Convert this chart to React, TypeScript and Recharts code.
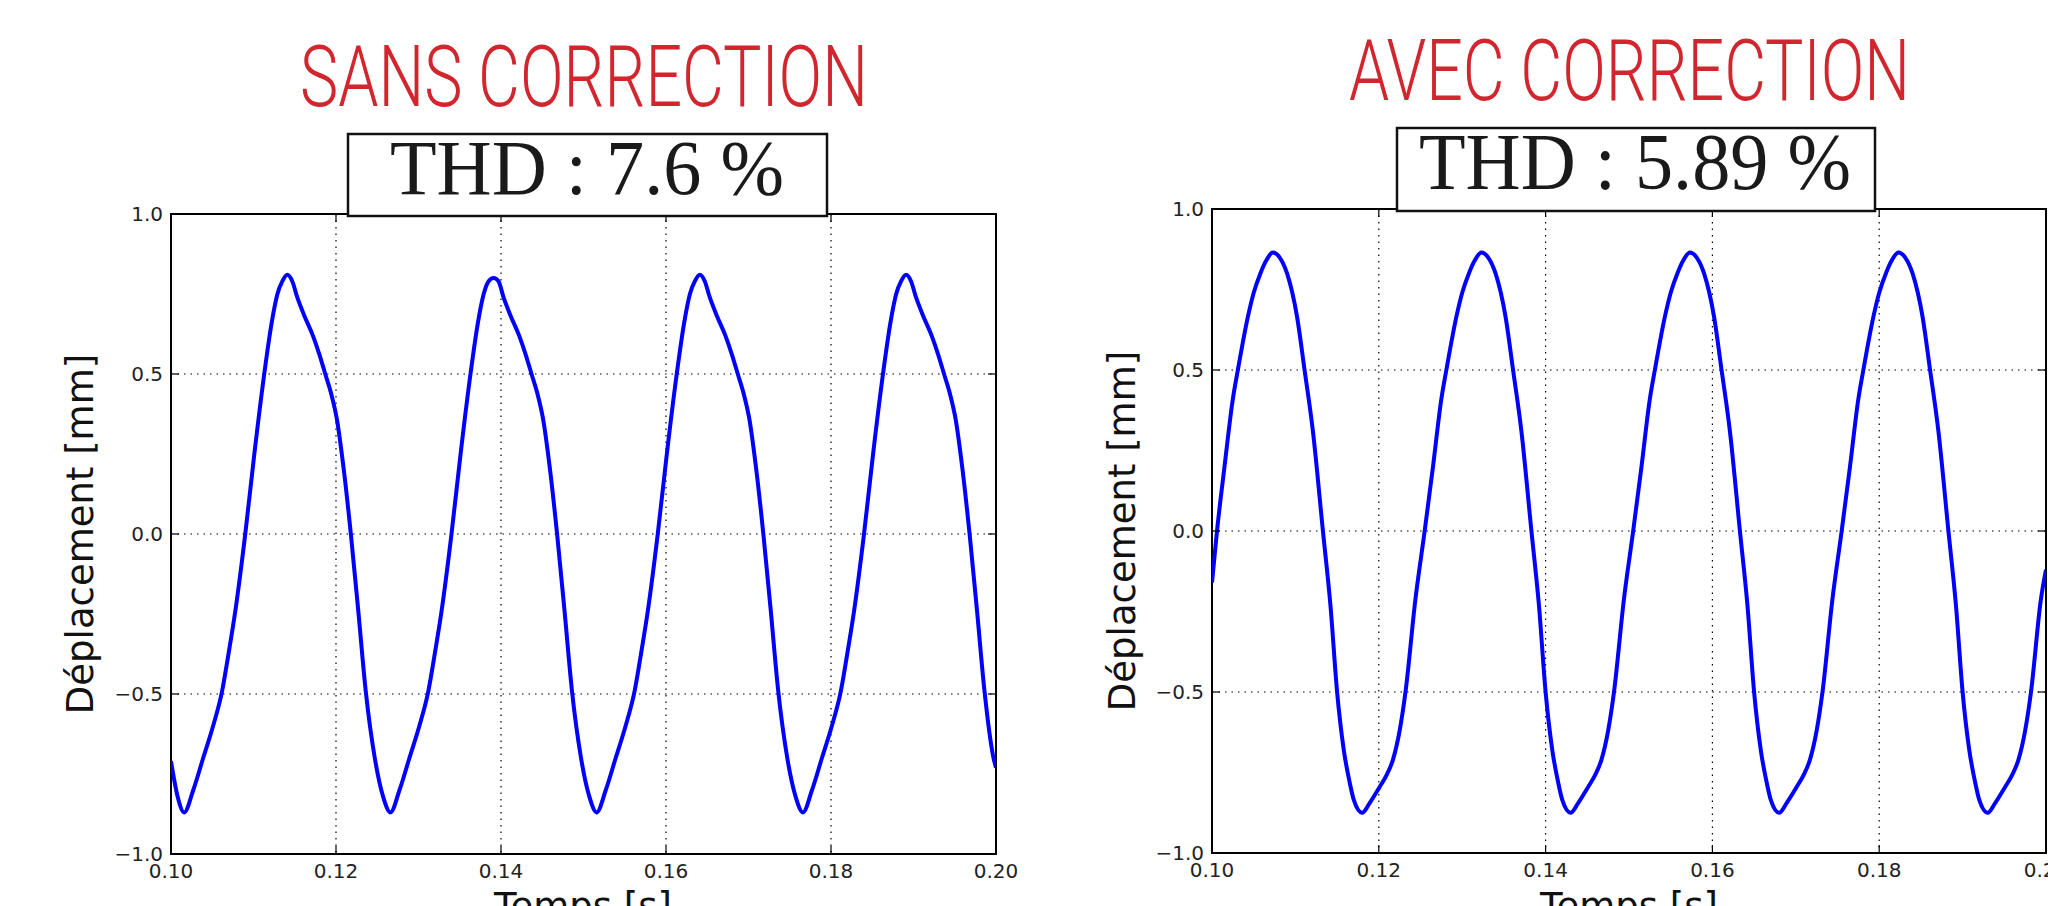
import React from "react";
import { LineChart, Line, XAxis, YAxis, CartesianGrid, ReferenceArea } from "recharts";

// axis ticks shared by both panels
const xTicks = [0.1, 0.12, 0.14, 0.16, 0.18, 0.2];
const yTicks = [-1, -0.5, 0, 0.5, 1];

// "SANS CORRECTION" trace (time in s, displacement in mm)
const sansTime = [
  0.1, 0.1008,
  0.1016, 0.1027, 0.1039, 0.1051, 0.1062, 0.107, 0.1078, 0.109, 0.1101, 0.1113, 0.1122, 0.1129, 0.1135, 0.1141,
  0.1147, 0.1153, 0.1162, 0.1172, 0.118, 0.1187, 0.1195, 0.1201, 0.1209, 0.1218, 0.1227, 0.1236, 0.1247, 0.1257,
  0.1266, 0.1277, 0.1289, 0.1301, 0.1312, 0.132, 0.1328, 0.134, 0.1351, 0.1363, 0.1372, 0.1379, 0.1385, 0.1391,
  0.1397, 0.1403, 0.1412, 0.1422, 0.143, 0.1437, 0.1445, 0.1451, 0.1459, 0.1468, 0.1477, 0.1486, 0.1497, 0.1507,
  0.1516, 0.1527, 0.1539, 0.1551, 0.1562, 0.157, 0.1578, 0.159, 0.1601, 0.1613, 0.1622, 0.1629, 0.1635, 0.1641,
  0.1647, 0.1653, 0.1662, 0.1672, 0.168, 0.1687, 0.1695, 0.1701, 0.1709, 0.1718, 0.1727, 0.1736, 0.1747, 0.1757,
  0.1766, 0.1777, 0.1789, 0.1801, 0.1812, 0.182, 0.1828, 0.184, 0.1851, 0.1863, 0.1872, 0.1879, 0.1885, 0.1891,
  0.1897, 0.1903, 0.1912, 0.1922, 0.193, 0.1937, 0.1945, 0.1951, 0.1959, 0.1968, 0.1977, 0.1986, 0.1997, 0.2,
];
const sansDisp = [
  -0.71, -0.82,
  -0.87, -0.8, -0.7, -0.6, -0.49, -0.37, -0.24, 0.0, 0.25, 0.5, 0.66, 0.75, 0.79, 0.81,
  0.79, 0.74, 0.68, 0.62, 0.56, 0.5, 0.43, 0.36, 0.21, 0.0, -0.24, -0.49, -0.7, -0.82,
  -0.87, -0.8, -0.7, -0.6, -0.49, -0.37, -0.24, 0.0, 0.25, 0.5, 0.66, 0.75, 0.79, 0.8,
  0.79, 0.74, 0.68, 0.62, 0.56, 0.5, 0.43, 0.36, 0.21, 0.0, -0.24, -0.49, -0.7, -0.82,
  -0.87, -0.8, -0.7, -0.6, -0.49, -0.37, -0.24, 0.0, 0.25, 0.5, 0.66, 0.75, 0.79, 0.81,
  0.79, 0.74, 0.68, 0.62, 0.56, 0.5, 0.43, 0.36, 0.21, 0.0, -0.24, -0.49, -0.7, -0.82,
  -0.87, -0.8, -0.7, -0.6, -0.49, -0.37, -0.24, 0.0, 0.25, 0.5, 0.66, 0.75, 0.79, 0.81,
  0.79, 0.74, 0.68, 0.62, 0.56, 0.5, 0.43, 0.36, 0.21, 0.0, -0.24, -0.49, -0.7, -0.73,
];

// "AVEC CORRECTION" trace
const avecTime = [
  0.1, 0.1006, 0.1015, 0.1025, 0.1031, 0.1043, 0.105, 0.1058, 0.1065, 0.1073,
  0.1081, 0.109, 0.1102, 0.1111, 0.1121, 0.1133, 0.1142, 0.115, 0.1158, 0.1165, 0.117, 0.118,
  0.1189, 0.1201, 0.1209, 0.1217, 0.1225, 0.1232, 0.1244, 0.1255, 0.1265, 0.1275, 0.1281, 0.1293, 0.13, 0.1308, 0.1315, 0.1323,
  0.1331, 0.134, 0.1352, 0.1361, 0.1371, 0.1383, 0.1392, 0.14, 0.1408, 0.1415, 0.142, 0.143,
  0.1439, 0.1451, 0.1459, 0.1467, 0.1475, 0.1482, 0.1494, 0.1505, 0.1515, 0.1525, 0.1531, 0.1543, 0.155, 0.1558, 0.1565, 0.1573,
  0.1581, 0.159, 0.1602, 0.1611, 0.1621, 0.1633, 0.1642, 0.165, 0.1658, 0.1665, 0.167, 0.168,
  0.1689, 0.1701, 0.1709, 0.1717, 0.1725, 0.1732, 0.1744, 0.1755, 0.1765, 0.1775, 0.1781, 0.1793, 0.18, 0.1808, 0.1815, 0.1823,
  0.1831, 0.184, 0.1852, 0.1861, 0.1871, 0.1883, 0.1892, 0.19, 0.1908, 0.1915, 0.192, 0.193,
  0.1939, 0.1951, 0.1959, 0.1967, 0.1975, 0.1982, 0.1994, 0.2,
];
const avecDisp = [
  -0.16, 0.0, 0.2, 0.41, 0.5, 0.665, 0.74, 0.8, 0.84, 0.865,
  0.85, 0.8, 0.665, 0.5, 0.31, 0.0, -0.23, -0.5, -0.68, -0.78, -0.835, -0.875,
  -0.845, -0.795, -0.76, -0.71, -0.62, -0.5, -0.21, 0.0, 0.2, 0.41, 0.5, 0.665, 0.74, 0.8, 0.84, 0.865,
  0.85, 0.8, 0.665, 0.5, 0.31, 0.0, -0.23, -0.5, -0.68, -0.78, -0.835, -0.875,
  -0.845, -0.795, -0.76, -0.71, -0.62, -0.5, -0.21, 0.0, 0.2, 0.41, 0.5, 0.665, 0.74, 0.8, 0.84, 0.865,
  0.85, 0.8, 0.665, 0.5, 0.31, 0.0, -0.23, -0.5, -0.68, -0.78, -0.835, -0.875,
  -0.845, -0.795, -0.76, -0.71, -0.62, -0.5, -0.21, 0.0, 0.2, 0.41, 0.5, 0.665, 0.74, 0.8, 0.84, 0.865,
  0.85, 0.8, 0.665, 0.5, 0.31, 0.0, -0.23, -0.5, -0.68, -0.78, -0.835, -0.875,
  -0.845, -0.795, -0.76, -0.71, -0.62, -0.5, -0.21, -0.12,
];

const toRows = (t: number[], v: number[]) => t.map((x, i) => ({ t: x, v: v[i] }));

const TICK_FONT = "'DejaVu Sans', sans-serif";
const fmtY = (v: number) => (v < 0 ? "\u2212" + Math.abs(v).toFixed(1) : v.toFixed(1));

// matplotlib-style inward ticks on both opposite spines
const makeXTick = (top: number) => (p: any) => (
  <g>
    <line x1={p.x} x2={p.x} y1={p.y} y2={p.y - 8} stroke="#000" strokeWidth={1.2} />
    <line x1={p.x} x2={p.x} y1={top} y2={top + 8} stroke="#000" strokeWidth={1.2} />
    <text x={p.x} y={p.y + 24} textAnchor="middle" fontFamily={TICK_FONT} fontSize={20} fill="#222">
      {Number(p.payload.value).toFixed(2)}
    </text>
  </g>
);

const makeYTick = (right: number) => (p: any) => (
  <g>
    <line x1={p.x} x2={p.x + 8} y1={p.y} y2={p.y} stroke="#000" strokeWidth={1.2} />
    <line x1={right - 8} x2={right} y1={p.y} y2={p.y} stroke="#000" strokeWidth={1.2} />
    <text x={p.x - 8} y={p.y + 7} textAnchor="end" fontFamily={TICK_FONT} fontSize={20} fill="#222">
      {fmtY(Number(p.payload.value))}
    </text>
  </g>
);

interface PanelProps {
  left: number;
  width: number;
  axisWidth: number;
  top: number;
  right: number;
  axisHeight: number;
  rows: { t: number; v: number }[];
}

function Panel({ left, width, axisWidth, top, right, axisHeight, rows }: PanelProps) {
  const plotRight = width - right;
  return (
    <div style={{ position: "absolute", left, top: 0 }}>
      <LineChart width={width} height={930} data={rows} margin={{ top, right, left: 0, bottom: 0 }}>
        <CartesianGrid stroke="#000" strokeWidth={1.2} strokeDasharray="1.5 5" />
        <XAxis
          dataKey="t"
          type="number"
          domain={[0.1, 0.2]}
          ticks={xTicks}
          allowDataOverflow
          height={axisHeight}
          axisLine={false}
          tickLine={false}
          tickSize={0}
          tickMargin={0}
          interval={0}
          tick={makeXTick(top)}
        />
        <YAxis
          type="number"
          domain={[-1, 1]}
          ticks={yTicks}
          allowDataOverflow
          width={axisWidth}
          axisLine={false}
          tickLine={false}
          tickSize={0}
          tickMargin={0}
          interval={0}
          tick={makeYTick(plotRight)}
        />
        <ReferenceArea
          x1={0.1}
          x2={0.2}
          y1={-1}
          y2={1}
          fill="none"
          fillOpacity={0}
          stroke="#000"
          strokeWidth={2}
          ifOverflow="visible"
        />
        <Line
          type="monotone"
          dataKey="v"
          stroke="#0000ff"
          strokeWidth={4}
          dot={false}
          isAnimationActive={false}
        />
      </LineChart>
    </div>
  );
}

const RED = "#d2262f";
const TITLE_FONT = "Roboto, 'Liberation Sans Narrow', sans-serif";

export default function App() {
  return (
    <div
      style={{
        position: "absolute",
        left: 0,
        top: 0,
        width: 2048,
        height: 906,
        overflow: "hidden",
        background: "#fff",
      }}
    >
      <Panel left={0} width={1020} axisWidth={171} top={214} right={24} axisHeight={76} rows={toRows(sansTime, sansDisp)} />
      <Panel left={1030} width={1018} axisWidth={182} top={209} right={2} axisHeight={77} rows={toRows(avecTime, avecDisp)} />

      <svg width={2048} height={906} style={{ position: "absolute", left: 0, top: 0, pointerEvents: "none" }}>
        <text
          x={584}
          y={106}
          textAnchor="middle"
          fontFamily={TITLE_FONT}
          fontWeight={300}
          fontSize={86}
          fill={RED}
          textLength={568}
          lengthAdjust="spacingAndGlyphs"
        >
          SANS CORRECTION
        </text>
        <text
          x={1629.5}
          y={100}
          textAnchor="middle"
          fontFamily={TITLE_FONT}
          fontWeight={300}
          fontSize={86}
          fill={RED}
          textLength={561}
          lengthAdjust="spacingAndGlyphs"
        >
          AVEC CORRECTION
        </text>

        <rect x={348} y={134} width={479} height={82} fill="#fff" stroke="#111" strokeWidth={2.5} />
        <text
          x={587}
          y={194}
          textAnchor="middle"
          fontFamily="'Liberation Serif', serif"
          fontSize={78}
          fill="#1a1a1a"
          textLength={394}
          lengthAdjust="spacingAndGlyphs"
        >
          THD : 7.6 %
        </text>
        <rect x={1397} y={128} width={478} height={83} fill="#fff" stroke="#111" strokeWidth={2.5} />
        <text
          x={1635}
          y={189}
          textAnchor="middle"
          fontFamily="'Liberation Serif', serif"
          fontSize={81}
          fill="#1a1a1a"
          textLength={432}
          lengthAdjust="spacingAndGlyphs"
        >
          THD : 5.89 %
        </text>

        <text x={93} y={534} transform="rotate(-90 93 534)" textAnchor="middle" fontFamily={TICK_FONT} fontSize={37} fill="#111">
          Déplacement [mm]
        </text>
        <text x={1135} y={531} transform="rotate(-90 1135 531)" textAnchor="middle" fontFamily={TICK_FONT} fontSize={37} fill="#111">
          Déplacement [mm]
        </text>
        <text x={583} y={919} textAnchor="middle" fontFamily={TICK_FONT} fontSize={37} fill="#111">
          Temps [s]
        </text>
        <text x={1629} y={919} textAnchor="middle" fontFamily={TICK_FONT} fontSize={37} fill="#111">
          Temps [s]
        </text>
      </svg>
    </div>
  );
}
